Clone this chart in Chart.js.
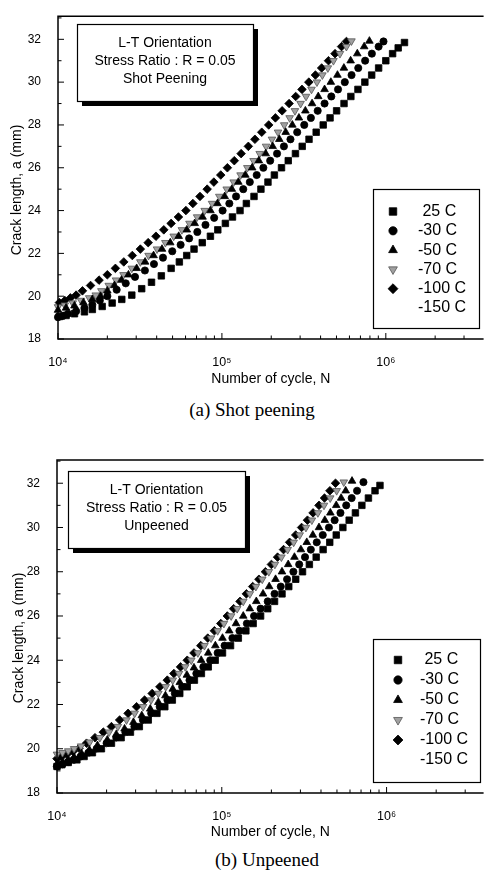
<!DOCTYPE html>
<html>
<head>
<meta charset="utf-8">
<script src="https://cdn.jsdelivr.net/npm/chart.js@4/dist/chart.umd.min.js"></script>
<style>
  body { margin: 0; background: #fff; width: 489px; height: 872px; position: relative; overflow: hidden; }
  canvas { position: absolute; left: 0; }
  .caption { position: absolute; font-family: 'Liberation Serif', 'Times New Roman', serif; font-size: 19px; color: #000;
             transform: translate(-50%, -50%); white-space: nowrap; }
</style>
</head>
<body>
<canvas id="chartA" width="489" height="390" style="top:0"></canvas>
<canvas id="chartB" width="489" height="412" style="top:430px"></canvas>
<div class="caption" style="left:252px; top:410px">(a) Shot peening</div>
<div class="caption" style="left:267px; top:860px">(b) Unpeened</div>
<script>
// --- Data ---
const seriesLabels = [' 25 C', '-30 C', '-50 C', '-70 C', '-100 C', '-150 C'];
const xTickValues = [1e4, 2e4, 3e4, 4e4, 5e4, 6e4, 7e4, 8e4, 9e4, 1e5, 2e5, 3e5, 4e5, 5e5, 6e5, 7e5, 8e5, 9e5, 1e6, 2e6, 3e6];
const yTickValues = [18, 19, 20, 21, 22, 23, 24, 25, 26, 27, 28, 29, 30, 31, 32, 33];

// (a) Shot peening
const shotCycles25 = [1.02e4,1.12e4,1.26e4,1.45e4,1.62e4,1.86e4,2.14e4,2.45e4,2.82e4,3.24e4,3.72e4,4.27e4,4.90e4,5.50e4,6.10e4,6.76e4,7.59e4,8.51e4,9.44e4,1.05e5,1.16e5,1.29e5,1.41e5,1.57e5,1.73e5,1.91e5,2.09e5,2.31e5,2.54e5,2.81e5,3.09e5,3.40e5,3.76e5,4.15e5,4.57e5,5.01e5,5.56e5,6.12e5,6.76e5,7.45e5,8.20e5,9.04e5,1.00e6,1.10e6,1.19e6,1.30e6];
const shotCrack25 = [19.05,19.10,19.18,19.27,19.38,19.52,19.68,19.85,20.05,20.35,20.65,20.95,21.3,21.6,21.9,22.2,22.5,22.8,23.1,23.4,23.7,24.0,24.33,24.66,25.0,25.33,25.66,26.0,26.33,26.66,27.0,27.33,27.66,28.0,28.33,28.66,29.0,29.33,29.66,30.0,30.33,30.66,31.0,31.33,31.6,31.85];
const shotCycles30 = [1.00e4,1.07e4,1.15e4,1.29e4,1.45e4,1.62e4,1.80e4,2.00e4,2.28e4,2.59e4,2.95e4,3.39e4,3.85e4,4.37e4,4.98e4,5.60e4,6.31e4,7.08e4,7.94e4,8.97e4,1.01e5,1.11e5,1.22e5,1.35e5,1.48e5,1.63e5,1.79e5,1.97e5,2.17e5,2.39e5,2.62e5,2.88e5,3.18e5,3.49e5,3.84e5,4.23e5,4.65e5,5.11e5,5.62e5,6.18e5,6.79e5,7.48e5,8.22e5,9.04e5,9.68e5];
const shotCrack30 = [19.02,19.08,19.18,19.3,19.45,19.6,19.8,20.0,20.3,20.6,20.9,21.2,21.5,21.8,22.1,22.4,22.7,23.0,23.33,23.66,24.0,24.33,24.66,25.0,25.33,25.66,26.0,26.33,26.66,27.0,27.33,27.66,28.0,28.33,28.66,29.0,29.33,29.66,30.0,30.33,30.66,31.0,31.33,31.66,31.9];
const shotCycles50 = [1.00e4,1.12e4,1.26e4,1.43e4,1.62e4,1.82e4,2.00e4,2.21e4,2.44e4,2.69e4,3.02e4,3.40e4,3.83e4,4.31e4,4.84e4,5.45e4,6.11e4,6.82e4,7.62e4,8.51e4,9.40e4,1.04e5,1.15e5,1.26e5,1.39e5,1.53e5,1.68e5,1.85e5,2.04e5,2.24e5,2.45e5,2.69e5,2.95e5,3.23e5,3.55e5,3.87e5,4.23e5,4.62e5,5.07e5,5.55e5,6.10e5,6.70e5,7.38e5,7.94e5];
const shotCrack50 = [19.35,19.45,19.55,19.7,19.85,20.0,20.25,20.5,20.75,21.0,21.3,21.6,21.9,22.2,22.5,22.8,23.1,23.4,23.7,24.0,24.33,24.66,25.0,25.33,25.66,26.0,26.33,26.66,27.0,27.33,27.66,28.0,28.33,28.66,29.0,29.33,29.66,30.0,30.33,30.66,31.0,31.33,31.66,31.92];
const shotCycles70 = [1.00e4,1.10e4,1.23e4,1.38e4,1.55e4,1.70e4,1.84e4,2.04e4,2.26e4,2.51e4,2.82e4,3.18e4,3.57e4,4.02e4,4.52e4,5.08e4,5.70e4,6.34e4,7.06e4,7.85e4,8.71e4,9.64e4,1.07e5,1.18e5,1.30e5,1.43e5,1.56e5,1.70e5,1.86e5,2.02e5,2.20e5,2.40e5,2.59e5,2.79e5,3.02e5,3.26e5,3.52e5,3.80e5,4.10e5,4.43e5,4.79e5,5.25e5,5.75e5,6.17e5];
const shotCrack70 = [19.5,19.58,19.68,19.8,19.92,20.05,20.25,20.5,20.75,21.0,21.3,21.6,21.9,22.2,22.5,22.8,23.1,23.4,23.7,24.0,24.33,24.66,25.0,25.33,25.66,26.0,26.33,26.66,27.0,27.33,27.66,28.0,28.33,28.66,29.0,29.33,29.66,30.0,30.33,30.66,31.0,31.33,31.66,31.92];
const shotCycles100 = [1.02e4,1.10e4,1.19e4,1.29e4,1.41e4,1.58e4,1.78e4,2.00e4,2.24e4,2.52e4,2.84e4,3.18e4,3.55e4,3.96e4,4.42e4,4.90e4,5.43e4,6.03e4,6.65e4,7.35e4,8.13e4,8.93e4,9.84e4,1.08e5,1.19e5,1.31e5,1.45e5,1.59e5,1.75e5,1.93e5,2.12e5,2.33e5,2.57e5,2.82e5,3.08e5,3.39e5,3.72e5,4.06e5,4.47e5,4.90e5,5.37e5,5.75e5];
const shotCrack100 = [19.7,19.8,19.92,20.05,20.25,20.5,20.75,21.0,21.3,21.6,21.9,22.2,22.5,22.8,23.1,23.4,23.7,24.0,24.33,24.66,25.0,25.33,25.66,26.0,26.33,26.66,27.0,27.33,27.66,28.0,28.33,28.66,29.0,29.33,29.66,30.0,30.33,30.66,31.0,31.33,31.66,31.9];

// (b) Unpeened
const unpCycles25 = [1.00e4,1.07e4,1.17e4,1.32e4,1.46e4,1.64e4,1.86e4,2.14e4,2.45e4,2.79e4,3.16e4,3.58e4,4.04e4,4.51e4,5.01e4,5.56e4,6.17e4,6.82e4,7.52e4,8.28e4,9.12e4,1.01e5,1.13e5,1.26e5,1.40e5,1.55e5,1.72e5,1.90e5,2.09e5,2.32e5,2.55e5,2.81e5,3.09e5,3.40e5,3.74e5,4.12e5,4.52e5,4.95e5,5.43e5,5.93e5,6.47e5,7.08e5,7.76e5,8.51e5,9.12e5];
const unpCrack25 = [19.2,19.28,19.38,19.5,19.65,19.82,20.0,20.25,20.5,20.75,21.0,21.3,21.6,21.9,22.2,22.5,22.8,23.1,23.4,23.7,24.0,24.33,24.66,25.0,25.33,25.66,26.0,26.33,26.66,27.0,27.33,27.66,28.0,28.33,28.66,29.0,29.33,29.66,30.0,30.33,30.66,31.0,31.33,31.66,31.9];
const unpCycles30 = [1.00e4,1.08e4,1.17e4,1.26e4,1.39e4,1.55e4,1.74e4,2.00e4,2.29e4,2.60e4,2.95e4,3.32e4,3.73e4,4.20e4,4.68e4,5.19e4,5.75e4,6.37e4,7.01e4,7.73e4,8.51e4,9.44e4,1.04e5,1.16e5,1.28e5,1.42e5,1.57e5,1.72e5,1.90e5,2.09e5,2.28e5,2.49e5,2.72e5,2.95e5,3.20e5,3.47e5,3.77e5,4.10e5,4.47e5,4.84e5,5.25e5,5.69e5,6.14e5,6.62e5,7.24e5];
const unpCrack30 = [19.2,19.3,19.4,19.5,19.65,19.82,20.0,20.25,20.5,20.75,21.0,21.3,21.6,21.9,22.2,22.5,22.8,23.1,23.4,23.7,24.0,24.33,24.66,25.0,25.33,25.66,26.0,26.33,26.66,27.0,27.33,27.66,28.0,28.33,28.66,29.0,29.33,29.66,30.0,30.33,30.66,31.0,31.33,31.66,32.05];
const unpCycles50 = [1.00e4,1.08e4,1.17e4,1.27e4,1.41e4,1.57e4,1.76e4,2.02e4,2.29e4,2.57e4,2.91e4,3.27e4,3.68e4,4.12e4,4.55e4,5.04e4,5.56e4,6.14e4,6.78e4,7.50e4,8.28e4,9.14e4,1.01e5,1.11e5,1.22e5,1.35e5,1.48e5,1.62e5,1.78e5,1.94e5,2.12e5,2.32e5,2.53e5,2.76e5,3.02e5,3.28e5,3.57e5,3.89e5,4.22e5,4.56e5,4.95e5,5.30e5,5.65e5,6.17e5];
const unpCrack50 = [19.3,19.4,19.5,19.62,19.78,19.95,20.15,20.4,20.65,20.9,21.2,21.5,21.8,22.1,22.4,22.7,23.0,23.33,23.66,24.0,24.33,24.66,25.0,25.33,25.66,26.0,26.33,26.66,27.0,27.33,27.66,28.0,28.33,28.66,29.0,29.33,29.66,30.0,30.33,30.66,31.0,31.33,31.66,32.1];
const unpCycles70 = [1.00e4,1.08e4,1.17e4,1.27e4,1.40e4,1.58e4,1.82e4,2.07e4,2.34e4,2.64e4,2.96e4,3.33e4,3.72e4,4.12e4,4.57e4,5.04e4,5.50e4,6.00e4,6.53e4,7.16e4,7.85e4,8.61e4,9.44e4,1.03e5,1.14e5,1.24e5,1.35e5,1.48e5,1.61e5,1.76e5,1.93e5,2.10e5,2.30e5,2.51e5,2.73e5,2.97e5,3.24e5,3.52e5,3.83e5,4.17e5,4.55e5,4.98e5,5.50e5];
const unpCrack70 = [19.75,19.82,19.9,20.0,20.12,20.3,20.5,20.75,21.0,21.3,21.6,21.9,22.2,22.5,22.8,23.1,23.4,23.7,24.0,24.33,24.66,25.0,25.33,25.66,26.0,26.33,26.66,27.0,27.33,27.66,28.0,28.33,28.66,29.0,29.33,29.66,30.0,30.33,30.66,31.0,31.33,31.66,32.05];
const unpCycles100 = [1.00e4,1.07e4,1.15e4,1.25e4,1.36e4,1.51e4,1.70e4,1.91e4,2.14e4,2.40e4,2.70e4,3.04e4,3.40e4,3.78e4,4.21e4,4.67e4,5.12e4,5.62e4,6.17e4,6.78e4,7.46e4,8.22e4,9.02e4,9.86e4,1.08e5,1.18e5,1.29e5,1.41e5,1.54e5,1.68e5,1.84e5,2.00e5,2.18e5,2.37e5,2.58e5,2.81e5,3.05e5,3.31e5,3.58e5,3.89e5,4.20e5,4.53e5,4.90e5];
const unpCrack100 = [19.55,19.65,19.75,19.88,20.02,20.25,20.5,20.75,21.0,21.3,21.6,21.9,22.2,22.5,22.8,23.1,23.4,23.7,24.0,24.33,24.66,25.0,25.33,25.66,26.0,26.33,26.66,27.0,27.33,27.66,28.0,28.33,28.66,29.0,29.33,29.66,30.0,30.33,30.66,31.0,31.33,31.66,32.0];

// --- Styles ---
const SANS = "'Liberation Sans', Arial, sans-serif";
const markerStyles = [
    { pointStyle: 'rect',     rotation: 0,   radius: 4.6, fill: '#000',    stroke: '#000' },
    { pointStyle: 'circle',   rotation: 0,   radius: 3.6, fill: '#000',    stroke: '#000' },
    { pointStyle: 'triangle', rotation: 0,   radius: 4.4, fill: '#000',    stroke: '#000' },
    { pointStyle: 'triangle', rotation: 180, radius: 4.4, fill: '#a0a0a0', stroke: '#555' },
    { pointStyle: 'rectRot',  rotation: 0,   radius: 4.3, fill: '#000',    stroke: '#000' },
    { pointStyle: false,      rotation: 0,   radius: 0,   fill: '#000',    stroke: '#000' }
];
const supDigits = { 4: '\u2074', 5: '\u2075', 6: '\u2076' };

const isDecade = v => Math.abs(Math.log10(v) - Math.round(Math.log10(v))) < 1e-9;

function makeDatasets(pairs) {
    return seriesLabels.map((label, i) => {
        const [cycles, crack] = pairs[i] || [[], []];
        const st = markerStyles[i];
        return {
            label,
            data: cycles.map((n, k) => ({ x: n, y: crack[k] })),
            showLine: false,
            clip: false,
            pointStyle: st.pointStyle,
            pointRotation: st.rotation,
            pointRadius: st.radius,
            pointBorderWidth: 0.8,
            backgroundColor: st.fill,
            borderColor: st.stroke
        };
    });
}

// draws frame, inward ticks, y title, note box and legend
const plotDecor = {
    id: 'plotDecor',
    afterDraw(chart, args, o) {
        const { ctx, chartArea: a, scales: { x, y } } = chart;
        ctx.save();
        ctx.strokeStyle = '#000';
        ctx.lineWidth = 1.5;
        ctx.beginPath();
        ctx.moveTo(a.right, a.top);
        ctx.lineTo(a.left, a.top);
        ctx.lineTo(a.left, a.bottom);
        ctx.lineTo(a.right, a.bottom);
        ctx.stroke();

        ctx.lineWidth = 1;
        ctx.beginPath();
        x.ticks.forEach(t => {
            const px = x.getPixelForValue(t.value);
            const len = isDecade(t.value) ? 6 : 3.5;
            ctx.moveTo(px, a.bottom);
            ctx.lineTo(px, a.bottom - len);
        });
        y.ticks.forEach(t => {
            const py = y.getPixelForValue(t.value);
            const len = t.value % 2 === 0 ? 6 : 3.5;
            ctx.moveTo(a.left, py);
            ctx.lineTo(a.left + len, py);
        });
        ctx.stroke();

        // y axis title
        ctx.fillStyle = '#000';
        ctx.font = '14px ' + SANS;
        ctx.textAlign = 'center';
        ctx.textBaseline = 'middle';
        ctx.save();
        ctx.translate(o.yTitle.x, o.yTitle.y);
        ctx.rotate(-Math.PI / 2);
        ctx.fillText('Crack length, a (mm)', 0, 0);
        ctx.restore();

        // note box with drop shadow
        const n = o.note;
        ctx.fillStyle = '#000';
        ctx.fillRect(n.x + 5, n.y + 5, n.w, n.h);
        ctx.fillStyle = '#fff';
        ctx.fillRect(n.x, n.y, n.w, n.h);
        ctx.lineWidth = 1.2;
        ctx.strokeRect(n.x + 0.5, n.y + 0.5, n.w, n.h);
        ctx.fillStyle = '#000';
        ctx.font = '14px ' + SANS;
        n.lines.forEach((line, i) => ctx.fillText(line, n.x + n.w / 2, n.lineY[i]));

        // legend
        const L = o.legend;
        ctx.fillStyle = '#fff';
        ctx.fillRect(L.x, L.y, L.w, L.h);
        ctx.lineWidth = 1.2;
        ctx.strokeRect(L.x + 0.5, L.y + 0.5, L.w, L.h);
        ctx.font = '16px ' + SANS;
        ctx.textAlign = 'left';
        chart.data.datasets.forEach((ds, i) => {
            const yy = L.rowY0 + i * L.rowStep;
            const st = markerStyles[i];
            if (st.pointStyle && Chart.helpers && Chart.helpers.drawPoint) {
                ctx.fillStyle = st.fill;
                ctx.strokeStyle = st.stroke;
                ctx.lineWidth = 0.8;
                Chart.helpers.drawPoint(ctx, { pointStyle: st.pointStyle, rotation: st.rotation, radius: st.radius * 1.15, borderWidth: 0.8 }, L.markerX, yy);
            }
            ctx.fillStyle = '#000';
            ctx.fillText(ds.label, L.textX, yy);
        });
        ctx.restore();
    }
};

function buildChart(canvasId, pairs, cfg) {
    const ctx = document.getElementById(canvasId).getContext('2d');
    return new Chart(ctx, {
        type: 'scatter',
        data: { datasets: makeDatasets(pairs) },
        options: {
            responsive: false,
            animation: false,
            layout: { padding: { top: cfg.padTop, left: 0, right: 0, bottom: 0 } },
            plugins: {
                legend: { display: false },
                tooltip: { enabled: false },
                plotDecor: cfg.decor
            },
            scales: {
                x: {
                    type: 'logarithmic',
                    min: 1e4,
                    max: cfg.xMax,
                    afterBuildTicks: s => { s.ticks = xTickValues.map(v => ({ value: v, major: isDecade(v) })); },
                    afterFit: s => { s.height = cfg.xHeight; },
                    grid: { display: false },
                    border: { display: false },
                    ticks: {
                        autoSkip: false,
                        maxRotation: 0,
                        padding: 8,
                        color: '#000',
                        font: { family: SANS, size: 12.5 },
                        callback: v => isDecade(v) ? '10' + supDigits[Math.round(Math.log10(v))] : ''
                    },
                    title: {
                        display: true,
                        text: 'Number of cycle, N',
                        color: '#000',
                        font: { family: SANS, size: 14 },
                        padding: { top: 0, bottom: cfg.titlePad }
                    }
                },
                y: {
                    min: 18,
                    max: cfg.yMax,
                    afterBuildTicks: s => { s.ticks = yTickValues.map(v => ({ value: v })); },
                    afterFit: s => { s.width = cfg.yWidth; },
                    grid: { display: false },
                    border: { display: false },
                    ticks: {
                        padding: 9,
                        color: '#000',
                        font: { family: SANS, size: 12 },
                        callback: v => v % 2 === 0 ? String(v) : ''
                    }
                }
            }
        },
        plugins: [plotDecor]
    });
}

buildChart('chartA', [
    [shotCycles25, shotCrack25], [shotCycles30, shotCrack30], [shotCycles50, shotCrack50],
    [shotCycles70, shotCrack70], [shotCycles100, shotCrack100]
], {
    padTop: 8, xHeight: 51, yWidth: 58, xMax: 3.95e6, yMax: 33.08, titlePad: 2.6,
    decor: {
        yTitle: { x: 17, y: 190 },
        note: { x: 77, y: 24, w: 176, h: 77, lines: ['L-T Orientation', 'Stress Ratio : R = 0.05', 'Shot Peening'], lineY: [43, 61, 79] },
        legend: { x: 373, y: 189, w: 106, h: 139, markerX: 393, textX: 418, rowY0: 211.5, rowStep: 19.3 }
    }
});

buildChart('chartB', [
    [unpCycles25, unpCrack25], [unpCycles30, unpCrack30], [unpCycles50, unpCrack50],
    [unpCycles70, unpCrack70], [unpCycles100, unpCrack100]
], {
    padTop: 30, xHeight: 49, yWidth: 57, xMax: 3.88e6, yMax: 33.05, titlePad: 1.6,
    decor: {
        yTitle: { x: 19, y: 208 },
        note: { x: 68, y: 41, w: 177, h: 77, lines: ['L-T Orientation', 'Stress Ratio : R = 0.05', 'Unpeened'], lineY: [60, 78, 96] },
        legend: { x: 373, y: 209, w: 107, h: 143, markerX: 398, textX: 420, rowY0: 230, rowStep: 20 }
    }
});
</script>
</body>
</html>
